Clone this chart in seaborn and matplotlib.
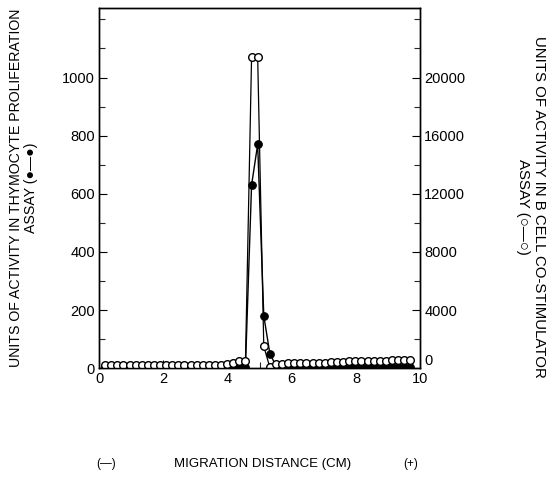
import numpy as np
import pandas as pd
import matplotlib
matplotlib.use("Agg")
import matplotlib.pyplot as plt
import seaborn as sns
from matplotlib.ticker import MultipleLocator

# fraction positions along the gel (cm)
distance = [0.19, 0.38, 0.57, 0.76, 0.95, 1.14, 1.33, 1.52, 1.71, 1.90,
            2.09, 2.28, 2.47, 2.66, 2.85, 3.04, 3.23, 3.42, 3.61, 3.80,
            3.99, 4.18, 4.37, 4.56, 4.75, 4.94, 5.13, 5.32, 5.51, 5.70,
            5.89, 6.08, 6.27, 6.46, 6.65, 6.84, 7.03, 7.22, 7.41, 7.60,
            7.79, 7.98, 8.17, 8.36, 8.55, 8.74, 8.93, 9.12, 9.31, 9.50, 9.69]

# thymocyte proliferation assay (left axis, filled circles)
thymocyte = [3, 3, 3, 3, 3, 3, 3, 3, 3, 3,
             4, 3, 3, 3, 3, 3, 3, 3, 3, 4,
             4, 5, 8, 5, 630, 770, 180, 50, 8, 5,
             4, 4, 4, 4, 4, 4, 4, 4, 4, 5,
             5, 5, 5, 5, 5, 5, 5, 5, 5, 5, 5]

# B cell co-stimulator assay (right axis, open circles)
bcell = [200, 200, 200, 200, 200, 200, 200, 200, 200, 200,
         220, 200, 200, 200, 200, 200, 200, 200, 220, 240,
         260, 350, 500, 500, 21400, 21400, 1500, 50, 300, 320,
         330, 340, 350, 360, 370, 380, 390, 400, 420, 440,
         460, 480, 480, 500, 500, 520, 520, 540, 540, 560, 560]

df = pd.DataFrame({"distance": distance, "thymocyte": thymocyte, "bcell": bcell})

sns.set_style("ticks")
plt.rcParams["font.family"] = ["Liberation Sans", "DejaVu Sans"]
plt.rcParams["text.color"] = "black"

fig = plt.figure(figsize=(5.5, 4.87), dpi=100)
ax = fig.add_axes([0.18, 0.244, 0.584, 0.74])

sns.lineplot(data=df, x="distance", y="thymocyte", ax=ax, color="black",
             marker="o", markersize=5.5, markerfacecolor="black",
             markeredgecolor="black", linewidth=1.0, zorder=2)
ax2 = ax.twinx()
sns.lineplot(data=df, x="distance", y="bcell", ax=ax2, color="black",
             marker="o", markersize=5.5, markerfacecolor="white",
             markeredgecolor="black", markeredgewidth=1.0, linewidth=0.9)

ax.set_xlim(0, 10)
ax.set_ylim(0, 1240)
ax2.set_ylim(0, 1240 * 20)

ax.set_xticks([0, 2, 4, 6, 8, 10])
ax.xaxis.set_minor_locator(MultipleLocator(1))
ax.set_yticks([0, 200, 400, 600, 800, 1000])
ax.yaxis.set_minor_locator(MultipleLocator(100))
ax2.set_yticks([0, 4000, 8000, 12000, 16000, 20000])
ax2.yaxis.set_minor_locator(MultipleLocator(2000))

for a in (ax, ax2):
    a.tick_params(which="major", direction="in", length=6, width=0.8,
                  labelsize=10.5, colors="black", pad=3)
    a.tick_params(which="minor", direction="in", length=4, width=0.8)
    for s in a.spines.values():
        s.set_visible(True)
        s.set_linewidth(1.0)
        s.set_color("black")
    a.set_xlabel("")
    a.set_ylabel("")

# the right-hand zero sits raised above the "10" of the x axis
fig.canvas.draw()
ax2.get_yticklabels()[0].set_verticalalignment("bottom")

fig.text(0.043, 0.615,
         "UNITS OF ACTIVITY IN THYMOCYTE PROLIFERATION\nASSAY (●—●)",
         rotation=90, ha="center", va="center", fontsize=10.2,
         multialignment="center", linespacing=1.15, color="black")
fig.text(0.965, 0.575,
         "UNITS OF ACTIVITY IN B CELL CO-STIMULATOR\nASSAY (○—○)",
         rotation=270, ha="center", va="center", fontsize=10.8,
         multialignment="center", linespacing=1.15, color="black")

fig.text(0.478, 0.048, "MIGRATION DISTANCE (CM)", ha="center", va="center",
         fontsize=9.5, color="black")
fig.text(0.193, 0.048, "(—)", ha="center", va="center", fontsize=8.5, color="black")
fig.text(0.747, 0.048, "(+)", ha="center", va="center", fontsize=8.5, color="black")

fig.savefig("out.png", dpi=100)
